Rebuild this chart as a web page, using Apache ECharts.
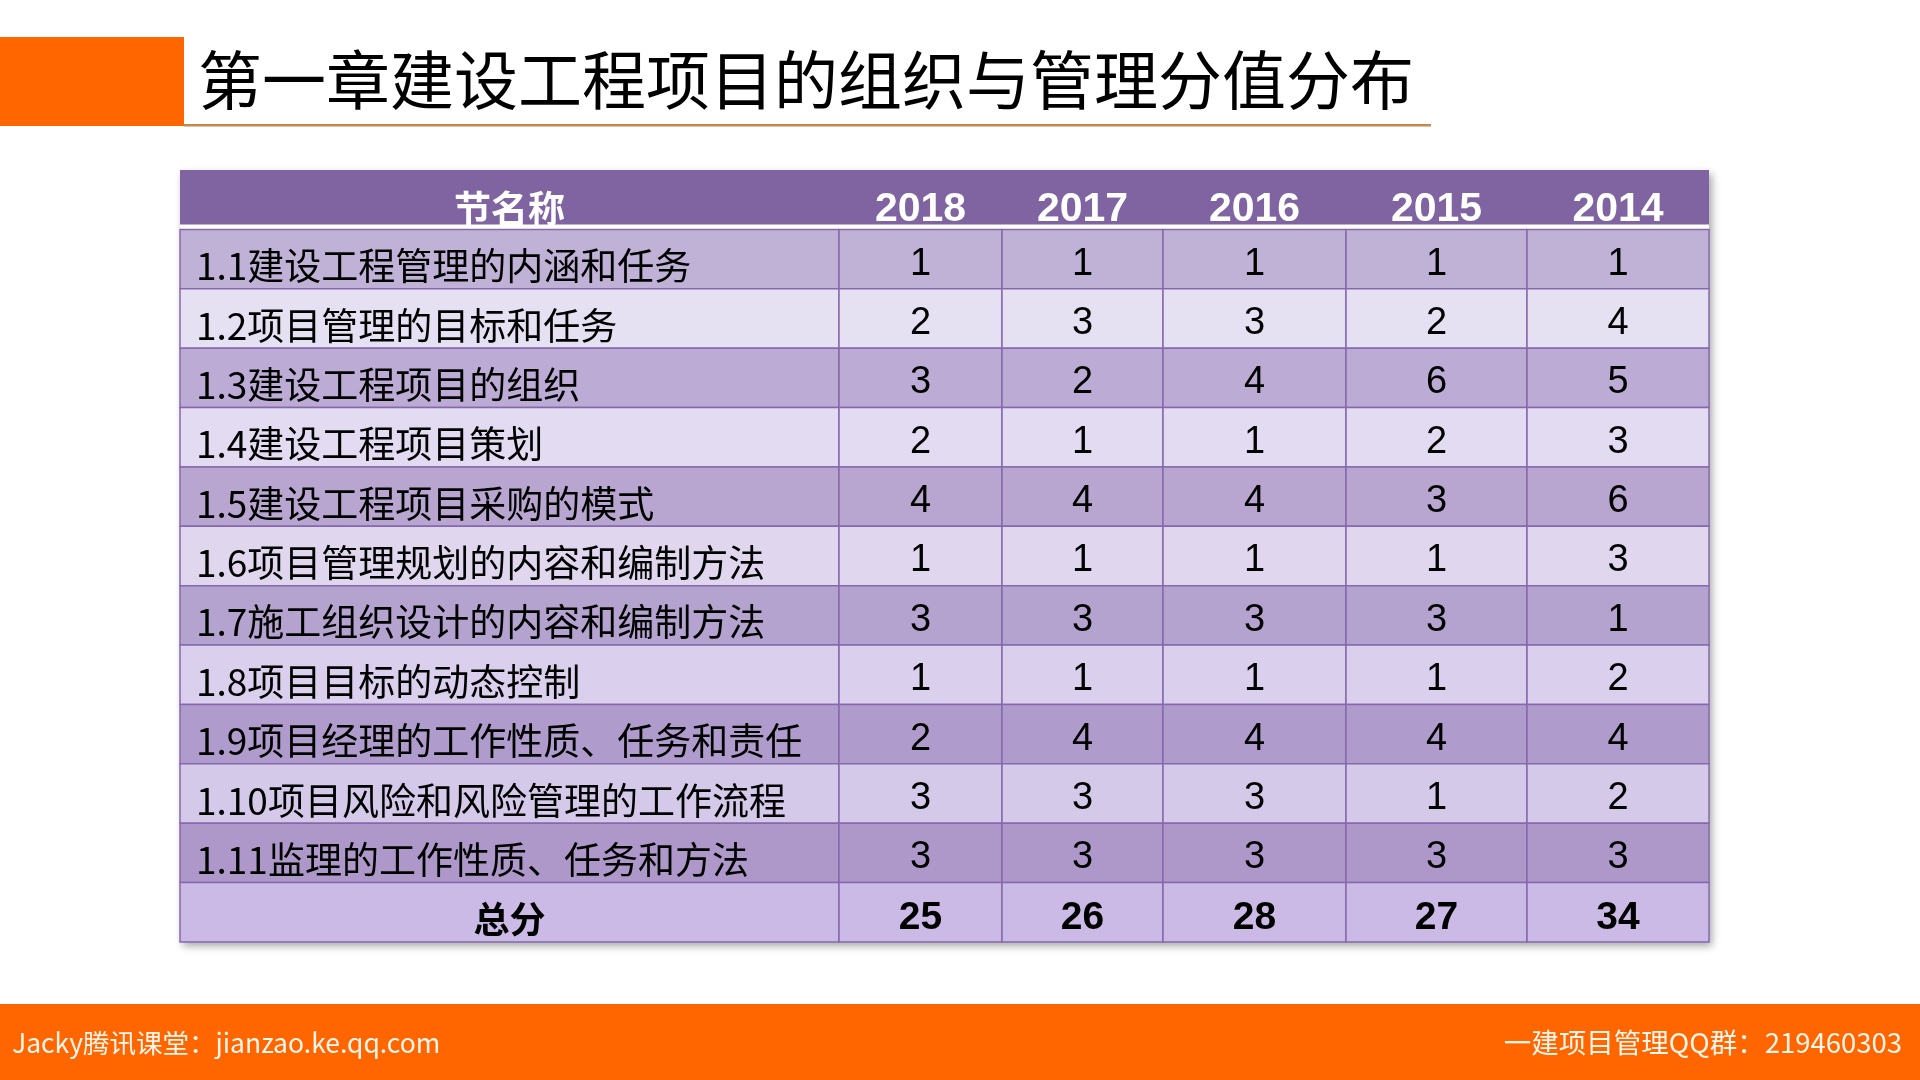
<!DOCTYPE html>
<html>
<head>
<meta charset="utf-8">
<script src="https://cdn.jsdelivr.net/npm/echarts@6/dist/echarts.min.js"></script>
<style>
html,body{margin:0;padding:0;background:#fff;}
#main{width:1920px;height:1080px;}
</style>
</head>
<body>
<div id="main"></div>
<script>
// ---- data ----
const titleText = '第一章建设工程项目的组织与管理分值分布';
const nameHeader = '节名称';
const totalLabel = '总分';
const years = ['2018', '2017', '2016', '2015', '2014'];
const sections = [
  '1.1建设工程管理的内涵和任务',
  '1.2项目管理的目标和任务',
  '1.3建设工程项目的组织',
  '1.4建设工程项目策划',
  '1.5建设工程项目采购的模式',
  '1.6项目管理规划的内容和编制方法',
  '1.7施工组织设计的内容和编制方法',
  '1.8项目目标的动态控制',
  '1.9项目经理的工作性质、任务和责任',
  '1.10项目风险和风险管理的工作流程',
  '1.11监理的工作性质、任务和方法'
];
const score2018 = [1, 2, 3, 2, 4, 1, 3, 1, 2, 3, 3];
const score2017 = [1, 3, 2, 1, 4, 1, 3, 1, 4, 3, 3];
const score2016 = [1, 3, 4, 1, 4, 1, 3, 1, 4, 3, 3];
const score2015 = [1, 2, 6, 2, 3, 1, 3, 1, 4, 1, 3];
const score2014 = [1, 4, 5, 3, 6, 3, 1, 2, 4, 2, 3];
const totals = [25, 26, 28, 27, 34];
const footerLeft = 'Jacky腾讯课堂：jianzao.ke.qq.com';
const footerRight = '一建项目管理QQ群：219460303';

// ---- layout / style ----
const tableLeft = 180, tableTop = 170, tableHeight = 772;
const colWidths = [659, 163, 161, 183, 181, 182];
const rowFills = ['#7F64A1', '#C0B1D6', '#E6E0F3', '#BCABD4', '#E3DBF1', '#B8A6D1', '#E0D7EF',
  '#B4A2CF', '#DACFEC', '#B09CCC', '#D5C9EA', '#AD98C9', '#CCBAE6'];
const borderColor = '#8669AD';
const cjk = "'Noto Sans CJK SC', 'Microsoft YaHei', sans-serif";
const num = "'Liberation Sans', Arial, sans-serif";

const scoreCols = [score2018, score2017, score2016, score2015, score2014];
const rowKeys = ['h'].concat(sections.map((s, i) => 'r' + i)).concat(['t']);
const nRows = rowKeys.length;

// column texts
const columns = [[nameHeader].concat(sections).concat([totalLabel])];
years.forEach((y, j) => {
  columns.push([y].concat(scoreCols[j].map(String)).concat([String(totals[j])]));
});

const grids = [], xAxes = [], yAxes = [], series = [];
let acc = tableLeft;
columns.forEach((col, ci) => {
  grids.push({left: acc, top: tableTop, width: colWidths[ci], height: tableHeight});
  acc += colWidths[ci];
  xAxes.push({type: 'category', gridIndex: ci, data: [col[0]], show: false});
  yAxes.push({type: 'category', gridIndex: ci, data: rowKeys, inverse: true, show: false});
  series.push({
    type: 'custom',
    coordinateSystem: 'cartesian2d',
    xAxisIndex: ci, yAxisIndex: ci,
    data: col.map((t, ri) => [0, ri]),
    silent: true,
    renderItem: function (params, api) {
      const ri = params.dataIndex;
      const c = api.coord([api.value(0), api.value(1)]);
      const s = api.size([1, 1]);
      const x0 = c[0] - s[0] / 2, y0 = c[1] - s[1] / 2;
      const children = [];
      const isHeader = ri === 0, isTotal = ri === nRows - 1;
      children.push({
        type: 'rect',
        shape: {x: x0, y: y0, width: s[0], height: s[1]},
        style: isHeader ? {fill: rowFills[ri]} : {fill: rowFills[ri], stroke: borderColor, lineWidth: 1.5}
      });
      if (isHeader) {
        children.push({type: 'rect', shape: {x: x0, y: y0 + s[1] - 5, width: s[0], height: 5}, style: {fill: '#ffffff'}});
      }
      let font, fill = '#000', align = 'center', tx = c[0], ty = c[1] + 6;
      if (ci === 0) {
        if (isHeader) { font = 'bold 37px ' + cjk; fill = '#fff'; ty = c[1] + 9; }
        else if (isTotal) { font = 'bold 36px ' + cjk; ty = c[1] + 7; }
        else { font = '37px ' + cjk; align = 'left'; tx = x0 + 16; ty = c[1] + 7; }
      } else {
        if (isHeader) { font = 'bold 41px ' + num; fill = '#fff'; ty = c[1] + 10; }
        else if (isTotal) { font = 'bold 39px ' + num; ty = c[1] + 6; }
        else { font = '38px ' + num; ty = c[1] + 5; }
      }
      children.push({
        type: 'text',
        style: {text: col[ri], x: tx, y: ty, font: font, fill: fill, align: align, verticalAlign: 'middle'}
      });
      return {type: 'group', children: children};
    },
    z: 3
  });
});

const tableWidth = colWidths.reduce((a, b) => a + b, 0);

const option = {
  backgroundColor: '#ffffff',
  animation: false,
  grid: grids,
  xAxis: xAxes,
  yAxis: yAxes,
  series: series,
  graphic: [
    {type: 'rect', z: 1, shape: {x: 0, y: 37, width: 184, height: 89}, style: {fill: '#FF6600'}},
    {type: 'rect', z: 1, shape: {x: 184, y: 124, width: 1247, height: 2.5}, style: {fill: '#C4884C'}},
    {type: 'text', z: 2, x: 198, y: 80, style: {text: titleText, font: '64px ' + cjk, fill: '#000', verticalAlign: 'middle'}},
    {type: 'rect', z: 1, shape: {x: tableLeft, y: tableTop, width: tableWidth, height: tableHeight},
      style: {fill: '#8669AD', shadowBlur: 8, shadowOffsetX: 3, shadowOffsetY: 4, shadowColor: 'rgba(0,0,0,0.35)'}},
    {type: 'rect', z: 1, shape: {x: 0, y: 1004, width: 1920, height: 76}, style: {fill: '#FF6600'}},
    {type: 'text', z: 2, x: 12, y: 1043, style: {text: footerLeft, font: '26.5px ' + cjk, fill: '#FFF6EC', verticalAlign: 'middle'}},
    {type: 'text', z: 2, x: 1902, y: 1043, style: {text: footerRight, font: '27.5px ' + cjk, fill: '#FFF6EC', align: 'right', verticalAlign: 'middle'}}
  ]
};

const chart = echarts.init(document.getElementById('main'), null, {renderer: 'canvas'});
chart.setOption(option);
</script>
</body>
</html>
